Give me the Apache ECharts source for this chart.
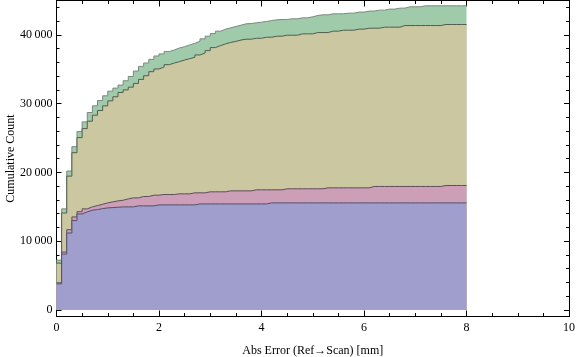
<!DOCTYPE html>
<html>
<head>
<meta charset="utf-8">
<script src="https://cdn.jsdelivr.net/npm/echarts@6/dist/echarts.min.js"></script>
<style>html,body{margin:0;padding:0;background:#fff}#c{width:576px;height:357px}</style>
</head>
<body>
<div id="c"></div>
<script>
// Bin layout (x axis, mm)
const binWidth = 0.1;
const binCount = 80;
const xTickLabels = ['0', '2', '4', '6', '8', '10'];
const yTickValues = [0, 10000, 20000, 30000, 40000];
const yTickLabels = ['0', '10\u2009000', '20\u2009000', '30\u2009000', '40\u2009000'];
const yMinorTickValues = [2000,4000,6000,8000,12000,14000,16000,18000,22000,24000,26000,28000,32000,34000,36000,38000,42000,44000];

// Top of each stacked layer, cumulative count per bin
const blueTop = [3800,8130,11190,13000,13970,14260,14500,14600,14740,14840,14890,14940,14990,14990,14990,
  15140,15140,15140,15140,
  15280,15280,15280,15280,15280,15280,15280,15280,
  15420,15420,15420,15420,15420,15420,15420,15420,15420,15420,15420,15420,15420,15420,
  15570,15570,15570,15570,15570,15570,15570,15570,15570,15570,15570,15570,15570,15570,15570,15570,15570,15570,15570,15570,
  15570,15570,15570,15570,15570,15570,15570,15570,15570,15570,15570,15570,15570,15570,15570,15570,15570,15570,15570];
const pinkTop = [3950,8420,11680,13530,14300,14700,14990,15180,15370,15570,15720,15860,15960,16150,
  16300,16300,16500,16500,16690,16690,16790,16790,16790,16890,16890,16890,17030,17030,17030,
  17180,17180,17180,17180,17320,17320,17320,17320,17320,
  17470,17470,17470,17470,17470,17470,
  17620,17620,17620,17620,17620,17620,17620,17620,
  17760,17760,17760,17760,17760,17760,17760,17760,17760,
  17960,17960,17960,17960,17960,17960,17960,17960,17960,17960,17960,17960,17960,17960,
  18100,18100,18100,18100,18100];
const oliveTop = [6810,14100,19460,22870,25060,26370,27450,28320,29000,29680,30410,31000,31630,32000,32400,
  32940,33530,34060,34650,35040,35330,35670,35910,36110,36350,36540,36740,37080,37370,37710,
  38150,38440,38690,38900,39050,39250,39370,39370,39510,39510,39660,39660,39810,39810,
  39950,39950,39950,40150,40150,40150,40340,40340,40340,40540,40540,40680,40680,40680,
  40830,40830,40970,40970,40970,41120,41120,41120,41120,
  41360,41360,41360,41360,41360,41360,41360,41360,41510,41510,41510,41510,41510];
const greenTop = [7250,14700,20200,23750,25940,27350,28710,29680,30460,31140,31820,32260,32700,33330,33950,
  34740,35420,35910,36440,36930,37230,37570,37810,38100,38290,38540,38780,39070,39420,39810,
  40190,40540,40830,41020,41220,41410,41610,41650,41750,41850,41950,42090,42190,42240,42240,
  42340,42340,42480,42480,42630,42820,42920,42920,43070,43070,43070,43160,43160,43310,43310,
  43460,43460,43600,43600,43750,43750,43890,43890,44090,44090,44090,
  44230,44230,44230,44230,44230,44230,44230,44230,44230];

const layers = [
  {name: 'green', data: greenTop, fill: '#9fcbaa', edge: '#7c887d'},
  {name: 'olive', data: oliveTop, fill: '#cbc7a1', edge: '#4f5e50'},
  {name: 'pink',  data: pinkTop,  fill: '#cc9eb8', edge: '#5e4f58'},
  {name: 'blue',  data: blueTop,  fill: '#a09ecc', edge: '#54506a'}
];

function stepPoints(vals) {
  const pts = vals.map((v, i) => [+(i * binWidth).toFixed(2), v]);
  pts.push([+(binCount * binWidth).toFixed(2), vals[vals.length - 1]]);
  return pts;
}

const font = 'Liberation Serif';
const axisLine = {show: true, onZero: false, lineStyle: {color: '#000', width: 1}};
const xBase = {type: 'value', min: 0, max: 10, interval: 2, splitLine: {show: false}, axisLine: axisLine,
  axisTick: {show: true, inside: true, length: 6, lineStyle: {color: '#000'}},
  minorTick: {show: true, splitNumber: 4, length: 3.5, lineStyle: {color: '#000'}}};
const yRange = {type: 'value', min: -950, max: 45000, splitLine: {show: false}, axisLine: axisLine};

const chart = echarts.init(document.getElementById('c'), null, {renderer: 'canvas'});
chart.setOption({
  animation: false,
  backgroundColor: '#fff',
  grid: {left: 56.5, right: 7, top: 0.5, bottom: 40.5, containLabel: false, outerBoundsMode: 'none'},
  xAxis: [
    Object.assign({}, xBase, {position: 'bottom',
      name: 'Abs Error (Ref\u2192Scan) [mm]', nameLocation: 'middle', nameGap: 28, nameMoveOverlap: false,
      nameTextStyle: {fontFamily: font, fontSize: 12, color: '#000'},
      axisLabel: {show: true, margin: 5, fontFamily: font, fontSize: 12, color: '#000',
        formatter: v => xTickLabels[Math.round(v / 2)] }}),
    Object.assign({}, xBase, {position: 'top', axisLabel: {show: false}})
  ],
  yAxis: [
    Object.assign({}, yRange, {position: 'left',
      name: 'Cumulative Count', nameLocation: 'middle', nameGap: 40, nameMoveOverlap: false,
      nameTextStyle: {fontFamily: font, fontSize: 12, color: '#000'},
      axisTick: {show: true, inside: true, length: 5, customValues: yTickValues, lineStyle: {color: '#000'}},
      axisLabel: {show: true, margin: 4, fontFamily: font, fontSize: 12, color: '#000', customValues: yTickValues,
        formatter: v => yTickLabels[yTickValues.indexOf(v)]}}),
    Object.assign({}, yRange, {position: 'left',
      axisTick: {show: true, inside: true, length: 3, customValues: yMinorTickValues, lineStyle: {color: '#000'}},
      axisLabel: {show: false}}),
    Object.assign({}, yRange, {position: 'right',
      axisTick: {show: true, inside: true, length: 5, customValues: yTickValues, lineStyle: {color: '#000'}},
      axisLabel: {show: false}}),
    Object.assign({}, yRange, {position: 'right',
      axisTick: {show: true, inside: true, length: 3, customValues: yMinorTickValues, lineStyle: {color: '#000'}},
      axisLabel: {show: false}})
  ],
  series: layers.map((l, k) => ({
    type: 'line', name: l.name, xAxisIndex: 0, yAxisIndex: 0,
    step: 'end', symbol: 'none', z: 2 + k,
    data: stepPoints(l.data),
    lineStyle: {color: l.edge, width: 1},
    areaStyle: {color: l.fill, opacity: 1, origin: 0}
  }))
});
</script>
</body>
</html>
